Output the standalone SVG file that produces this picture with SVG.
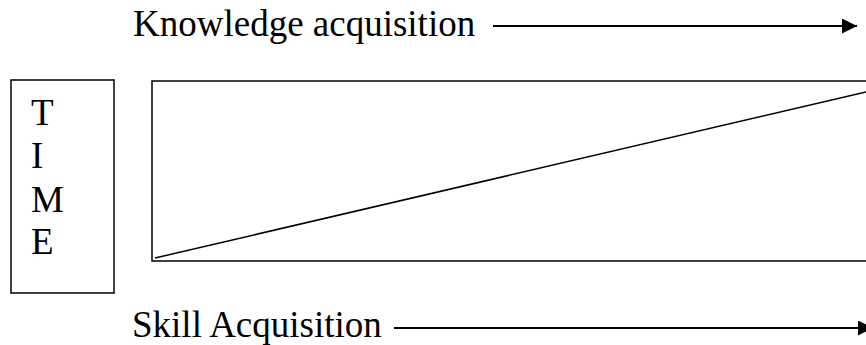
<svg xmlns="http://www.w3.org/2000/svg" width="866" height="345" viewBox="0 0 866 345">
<style>
.t{font-family:"Liberation Serif","Times New Roman",serif;font-size:37px;fill:#000}
.s{fill:none;stroke:#000;stroke-width:1.5}
.a{fill:none;stroke:#000;stroke-width:2}
</style>
<defs>
<marker id="ah" markerWidth="15" markerHeight="15" refX="15" refY="7.5" orient="auto" markerUnits="userSpaceOnUse">
<path d="M0,0 L15,7.5 L0,15 Z" fill="#000"/>
</marker>
</defs>
<rect width="866" height="345" fill="#fff"/>
<g id="time">
<rect class="s" x="11" y="80" width="103" height="213"/>
<text class="t" x="31" y="125">T</text>
<text class="t" x="31" y="168">I</text>
<text class="t" x="31" y="212">M</text>
<text class="t" x="31" y="254">E</text>
</g>
<g id="chart">
<rect class="s" x="152" y="81" width="730" height="180"/>
</g>
<g id="knowledge">
<text class="t" x="133" y="36">Knowledge acquisition</text>
</g>
<g id="skill">
<text class="t" x="132" y="337">Skill Acquisition</text>
</g>
<g id="connectors">
<line class="s" x1="155" y1="258" x2="866" y2="92"/>
<line class="a" x1="493" y1="26" x2="857" y2="26" marker-end="url(#ah)"/>
<line class="a" x1="394" y1="328" x2="873" y2="328" marker-end="url(#ah)"/>
</g>
</svg>
